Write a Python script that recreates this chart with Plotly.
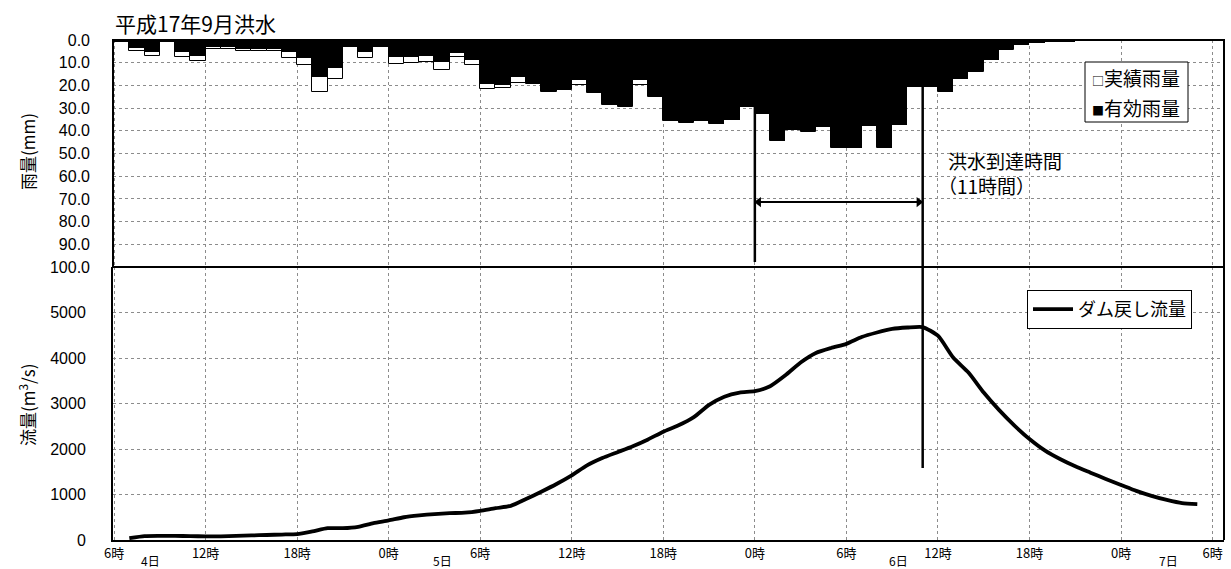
import plotly.graph_objects as go

# ---------------- data ----------------
# hourly rainfall, bar k covers hour k .. k+1 counted from 4日 6時
rain_total = [0.7, 4.7, 7.0, 0.7, 7.3, 9.1, 4.0, 4.0, 4.7, 4.7, 4.7, 7.8,
              11.0, 23.0, 17.2, 2.9, 7.8, 2.9, 10.6, 10.3, 9.6, 13.3, 7.6, 11.0,
              21.7, 21.1, 18.8, 19.2, 23.0, 21.9, 19.8, 23.3, 28.5, 29.3, 19.8, 25.0,
              35.9, 36.5, 35.5, 37.1, 35.4, 29.7, 32.7, 44.5, 39.8, 40.4, 38.2, 47.7,
              47.7, 37.9, 47.7, 37.6, 20.9, 20.9, 23.1, 17.2, 14.0, 8.9, 4.2, 2.2,
              1.5, 1.0, 0.7, 0.5, 0.4, 0.4, 0.3, 0.3, 0.2, 0.2, 0.2, 0.1]
rain_eff = [0.3, 3.7, 5.4, 0.3, 5.4, 6.9, 3.2, 3.2, 4.0, 4.0, 4.0, 5.4,
            8.1, 16.4, 12.5, 2.5, 5.4, 2.5, 7.6, 7.4, 7.0, 9.8, 5.9, 9.0,
            19.6, 19.8, 16.4, 18.8, 22.5, 21.5, 17.6, 22.8, 28.2, 29.1, 17.6, 24.7,
            35.7, 36.3, 35.3, 36.9, 35.2, 29.2, 32.5, 44.3, 39.1, 40.2, 38.0, 47.5,
            47.5, 37.7, 47.5, 37.4, 20.7, 20.7, 22.9, 17.0, 13.8, 8.8, 4.0, 2.1,
            1.4, 0.9, 0.6, 0.4, 0.4, 0.3, 0.3, 0.2, 0.2, 0.2, 0.1, 0.1]
rain_hours = [h + 0.5 for h in range(len(rain_total))]

flow_hours = list(range(1, 72))
flow = [40, 85, 90, 90, 85, 80, 80, 90, 100, 110, 120, 130,
        190, 260, 260, 290, 370, 430, 500, 540, 570, 590, 600, 640,
        700, 750, 900, 1060, 1230, 1420, 1640, 1800, 1930, 2060, 2210, 2380,
        2520, 2700, 2970, 3150, 3240, 3270, 3380, 3620, 3900, 4110, 4220, 4310,
        4460, 4560, 4640, 4670, 4680, 4490, 4010, 3680, 3240, 2860, 2520, 2220,
        1970, 1780, 1620, 1480, 1340, 1210, 1080, 970, 880, 810, 790]

x_tick_vals = list(range(0, 73, 6))
x_tick_text = ["6時", "12時", "18時", "0時", "6時", "12時", "18時", "0時",
               "6時", "12時", "18時", "0時", "6時"]
day_labels = ["4日", "5日", "6日", "7日"]
day_pos = [2.36, 21.55, 51.4, 69.1]

rain_ticks = list(range(0, 101, 10))
rain_tick_text = [f"{v:.1f}" for v in rain_ticks]
flow_ticks = list(range(0, 5001, 1000))

title_text = "平成17年9月洪水"
rain_legend_marks = ["□", "■"]
rain_legend_names = ["実績雨量", "有効雨量"]
arrival_start = 42   # 6日 0時
arrival_end = 53     # 6日 11時
arrow_level = 71.4   # mm-axis level of the arrow

JP = "Noto Sans CJK JP"
NUM = "Liberation Sans, Noto Sans CJK JP"
GRID = "#8c8c8c"
SPLIT = 0.546

L, R, T, B, W, H = 113, 7, 40, 29, 1231, 569
PW, PH = W - L - R, H - T - B


def px(xp):
    return (xp - L) / PW


def py(yp):
    return (H - B - yp) / PH


fig = go.Figure()

fig.add_trace(go.Bar(x=rain_hours, y=rain_total, width=1, name="実績雨量",
                     marker=dict(color="white", line=dict(color="black", width=1)),
                     xaxis="x2", yaxis="y2", showlegend=False))
fig.add_trace(go.Bar(x=rain_hours, y=rain_eff, width=1, name="有効雨量",
                     marker=dict(color="black", line=dict(color="black", width=0)),
                     xaxis="x2", yaxis="y2", showlegend=False))
fig.add_trace(go.Scatter(x=flow_hours, y=flow, mode="lines", name="ダム戻し流量",
                         line=dict(color="black", width=3.8, shape="spline", smoothing=0.6),
                         xaxis="x", yaxis="y", legend="legend2"))
# double-headed arrow for the arrival time
fig.add_trace(go.Scatter(x=[arrival_start + 0.25, arrival_end - 0.25],
                         y=[arrow_level, arrow_level], mode="lines+markers",
                         line=dict(color="black", width=2),
                         marker=dict(symbol=["triangle-left", "triangle-right"],
                                     size=9, color="black"),
                         xaxis="x2", yaxis="y2", showlegend=False, hoverinfo="skip"))

xr = [-0.07, 72.75]
fig.update_layout(
    width=W, height=H,
    margin=dict(l=L, r=R, t=T, b=B),
    plot_bgcolor="white", paper_bgcolor="white",
    barmode="overlay", bargap=0,
    font=dict(family=JP, color="black"),
    xaxis=dict(domain=[0, 1], range=xr, anchor="y", tickmode="array",
               tickvals=x_tick_vals, ticktext=x_tick_text,
               tickfont=dict(size=13, family=JP),
               showgrid=True, gridcolor=GRID, griddash="dot", gridwidth=1,
               showline=True, linecolor="black", linewidth=2, ticks="",
               zeroline=False),
    yaxis=dict(domain=[0, SPLIT], range=[0, 6000], anchor="x", tickmode="array",
               tickvals=flow_ticks, tickfont=dict(size=16, family=NUM),
               showgrid=True, gridcolor=GRID, griddash="dot", gridwidth=1,
               showline=True, linecolor="black", linewidth=2, ticks="",
               ticklabelstandoff=22, zeroline=False),
    xaxis2=dict(domain=[0, 1], range=xr, anchor="y2", matches="x",
                tickmode="array", tickvals=x_tick_vals, showticklabels=False,
                showgrid=True, gridcolor=GRID, griddash="dot", gridwidth=1,
                showline=False, ticks="", zeroline=False),
    yaxis2=dict(domain=[SPLIT, 1], range=[100, 0], anchor="x2", tickmode="array",
                tickvals=rain_ticks, ticktext=rain_tick_text,
                tickfont=dict(size=16, family=NUM),
                showgrid=True, gridcolor=GRID, griddash="dot", gridwidth=1,
                showline=False, ticks="", ticklabelstandoff=22, zeroline=False),
    legend2=dict(x=px(1027), y=py(290), xanchor="left", yanchor="top",
                 bgcolor="white", bordercolor="black", borderwidth=1,
                 font=dict(size=18, family=JP), itemwidth=40),
    showlegend=True,
)

shapes = [
    dict(type="rect", xref="paper", yref="paper", x0=0, x1=1, y0=SPLIT, y1=1,
         line=dict(color="black", width=2), layer="above"),
    dict(type="line", xref="paper", yref="paper", x0=1, x1=1, y0=0, y1=SPLIT,
         line=dict(color="black", width=2), layer="above"),
    dict(type="line", xref="x2", yref="y2", x0=arrival_start, x1=arrival_start,
         y0=0, y1=97.8, line=dict(color="black", width=2.5), layer="above"),
    dict(type="line", xref="x", yref="paper", x0=arrival_end, x1=arrival_end,
         y0=py(87), y1=py(468),
         line=dict(color="black", width=2.5), layer="above"),
    # rain legend box
    dict(type="rect", xref="paper", yref="paper", x0=px(1085), x1=px(1188),
         y0=py(122), y1=py(62), fillcolor="white",
         line=dict(color="black", width=1), layer="above"),
]
fig.update_layout(shapes=shapes)

ann = [
    dict(text=title_text, xref="paper", yref="paper", x=0, y=1, yshift=17,
         xanchor="left", yanchor="middle", showarrow=False,
         font=dict(size=21, family=JP)),
    dict(text="雨量(mm)", xref="paper", yref="paper", x=px(27), y=py(152),
         xanchor="center", yanchor="middle",
         textangle=-90, showarrow=False, font=dict(size=17, family=JP)),
    dict(text="流量(m<sup>3</sup>/s)", xref="paper", yref="paper", x=px(27), y=py(405),
         xanchor="center", yanchor="middle",
         textangle=-90, showarrow=False, font=dict(size=17, family=JP)),
    dict(text="洪水到達時間", xref="x2", yref="y2", x=54.5, y=52.9,
         xanchor="left", yanchor="middle", showarrow=False,
         font=dict(size=19, family=JP)),
    dict(text="（11時間）", xref="x2", yref="y2", x=53.9, y=63.9,
         xanchor="left", yanchor="middle", showarrow=False,
         font=dict(size=19, family=JP)),
]
for mark, name, ypix in zip(rain_legend_marks, rain_legend_names, [78, 107]):
    ann.append(dict(text=f"<span style='font-size:12px'>{mark}</span>{name}",
                    xref="paper", yref="paper", x=px(1090), y=py(ypix),
                    xanchor="left", yanchor="middle", showarrow=False,
                    font=dict(size=19, family=JP)))
for lab, pos in zip(day_labels, day_pos):
    ann.append(dict(text=lab, xref="x", yref="paper", x=pos, y=0, yshift=-20,
                    xanchor="center", yanchor="middle", showarrow=False,
                    font=dict(size=12, family=JP)))
fig.update_layout(annotations=ann)

fig.write_html("out.html", config={"displayModeBar": False},
               post_script="document.body.style.margin='0';")
